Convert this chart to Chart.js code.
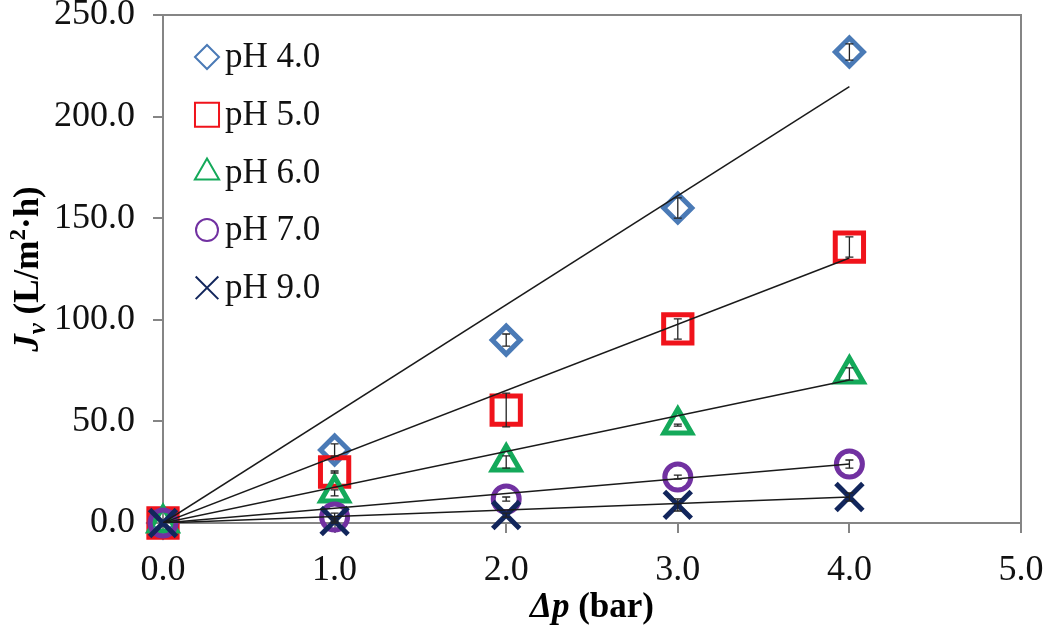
<!DOCTYPE html>
<html>
<head>
<meta charset="utf-8">
<title>Permeate flux vs pressure</title>
<script src="https://cdn.jsdelivr.net/npm/chart.js@4.4.0/dist/chart.umd.min.js"></script>
<style>
    html, body { margin: 0; padding: 0; background: #ffffff; }
    #wrap { width: 1050px; height: 639px; }
</style>
</head>
<body>
<div id="wrap"><canvas id="fluxChart" width="1050" height="639"></canvas></div>
<script>
// ── Data ────────────────────────────────────────────────────────────────────
const pressure = [0, 1, 2, 3, 4];
const seriesLabels = ['pH 4.0', 'pH 5.0', 'pH 6.0', 'pH 7.0', 'pH 9.0'];

const fluxPH4 = [0, 35.9, 90.0, 155.0, 231.8];
const fluxPH5 = [0, 25.1, 55.6, 95.5, 135.8];
const fluxPH6 = [0, 14.8, 30.0, 48.2, 73.3];
const fluxPH7 = [0, 2.9, 11.8, 22.6, 29.0];
const fluxPH9 = [0, 1.0, 3.9, 8.9, 12.8];

// error bar half-lengths
const errPH4 = [0, 3.0, 3.0, 5.0, 4.0];
const errPH5 = [0, 0.5, 8.3, 5.0, 5.0];
const errPH6 = [0, 1.5, 3.0, 0.5, 3.0];
const errPH7 = [0, 2.0, 1.0, 1.0, 2.0];
const errPH9 = [0, 1.0, 1.0, 3.0, 2.0];

// linear trend lines (start / end points)
const trendX = [0, 4];
const trendPH4 = [0, 214.8];
const trendPH5 = [0, 130.4];
const trendPH6 = [0, 70.4];
const trendPH7 = [0, 29.0];
const trendPH9 = [0, 12.8];

const xTicks = [0, 1, 2, 3, 4, 5];
const yTicks = [0, 50, 100, 150, 200, 250];

// ── Styling ─────────────────────────────────────────────────────────────────
const colors = {
    blue:   '#4a7ab6',
    red:    '#f0131b',
    green:  '#14a95a',
    purple: '#7131a1',
    navy:   '#12265c',
    axis:   '#858585'
};
const serif = "'Liberation Serif', 'Times New Roman', serif";

const toPoints = (xs, ys) => xs.map((x, i) => ({ x: x, y: ys[i] }));

const markerSets = [
    { data: fluxPH4, err: errPH4, color: colors.blue,   style: 'rectRot',  radius: 14, legendRadius: 12 },
    { data: fluxPH5, err: errPH5, color: colors.red,    style: 'rect',     radius: 20, legendRadius: 17 },
    { data: fluxPH6, err: errPH6, color: colors.green,  style: 'triangle', radius: 16, legendRadius: 14 },
    { data: fluxPH7, err: errPH7, color: colors.purple, style: 'circle',   radius: 13, legendRadius: 11 },
    { data: fluxPH9, err: errPH9, color: colors.navy,   style: 'crossRot', radius: 19, legendRadius: 16 }
];
const trends = [trendPH4, trendPH5, trendPH6, trendPH7, trendPH9];

const datasets = [];
markerSets.forEach((s, i) => {
    datasets.push({
        label: seriesLabels[i],
        data: toPoints(pressure, s.data),
        errors: s.err,
        showLine: false,
        pointStyle: s.style,
        pointRadius: s.radius,
        pointHoverRadius: s.radius,
        pointBorderWidth: 5,
        pointBorderColor: s.color,
        pointBackgroundColor: 'rgba(0,0,0,0)',
        borderColor: s.color,
        clip: false,
        order: 10 - i
    });
});
trends.forEach((t, i) => {
    datasets.push({
        label: seriesLabels[i] + ' trend',
        data: toPoints(trendX, t),
        showLine: true,
        borderColor: '#1a1a1a',
        borderWidth: 1.5,
        pointRadius: 0,
        pointHoverRadius: 0,
        order: 0
    });
});

// ── Plugins ─────────────────────────────────────────────────────────────────
const errorBars = {
    id: 'errorBars',
    afterDatasetsDraw(chart) {
        const ctx = chart.ctx, xs = chart.scales.x, ys = chart.scales.y;
        ctx.save();
        ctx.strokeStyle = '#222222';
        ctx.lineWidth = 1.3;
        chart.data.datasets.forEach(ds => {
            if (!ds.errors) return;
            ds.data.forEach((p, i) => {
                const e = ds.errors[i];
                if (!e) return;
                const px = xs.getPixelForValue(p.x);
                const top = ys.getPixelForValue(p.y + e);
                const bot = ys.getPixelForValue(p.y - e);
                ctx.beginPath();
                ctx.moveTo(px, top); ctx.lineTo(px, bot);
                ctx.moveTo(px - 4, top); ctx.lineTo(px + 4, top);
                ctx.moveTo(px - 4, bot); ctx.lineTo(px + 4, bot);
                ctx.stroke();
            });
        });
        ctx.restore();
    }
};

const frameAndTitles = {
    id: 'frameAndTitles',
    afterDraw(chart) {
        const ctx = chart.ctx, a = chart.chartArea;
        ctx.save();
        // plot frame (top and right edges)
        ctx.strokeStyle = colors.axis;
        ctx.lineWidth = 2;
        ctx.beginPath();
        ctx.moveTo(a.left, a.top); ctx.lineTo(a.right, a.top); ctx.lineTo(a.right, a.bottom);
        ctx.stroke();

        // legend, inside the plot at top-left
        markerSets.forEach((s, i) => {
            const cx = a.left + 44, cy = a.top + 42 + i * 57.7;
            ctx.strokeStyle = s.color;
            ctx.fillStyle = 'rgba(0,0,0,0)';
            Chart.helpers.drawPoint(ctx, { pointStyle: s.style, radius: s.legendRadius, borderWidth: 3.5, rotation: 0 }, cx, cy);
            ctx.fillStyle = '#111111';
            ctx.font = '35px ' + serif;
            ctx.textBaseline = 'middle';
            ctx.textAlign = 'left';
            ctx.fillText(seriesLabels[i], cx + 18, cy + 1);
        });

        // x axis title: "Δp (bar)"
        const xParts = [
            { t: 'Δp', f: 'italic bold 35px ' + serif },
            { t: ' (bar)', f: 'bold 35px ' + serif }
        ];
        drawParts(ctx, xParts, (a.left + a.right) / 2, 617);

        // y axis title: "Jv (L/m²·h)", rotated
        const yParts = [
            { t: 'J', f: 'italic bold 35px ' + serif },
            { t: 'v', f: 'italic bold 25px ' + serif, dy: 7 },
            { t: ' (L/m', f: 'bold 35px ' + serif },
            { t: '2', f: 'bold 23px ' + serif, dy: -13 },
            { t: '·h)', f: 'bold 35px ' + serif }
        ];
        ctx.translate(38, (a.top + a.bottom) / 2);
        ctx.rotate(-Math.PI / 2);
        drawParts(ctx, yParts, 0, 0);
        ctx.restore();
    }
};

function drawParts(ctx, parts, cx, baseline) {
    ctx.textBaseline = 'alphabetic';
    ctx.textAlign = 'left';
    ctx.fillStyle = '#000000';
    let total = 0;
    parts.forEach(p => { ctx.font = p.f; total += ctx.measureText(p.t).width; });
    let x = cx - total / 2;
    parts.forEach(p => {
        ctx.font = p.f;
        ctx.fillText(p.t, x, baseline + (p.dy || 0));
        x += ctx.measureText(p.t).width;
    });
}

// ── Chart ───────────────────────────────────────────────────────────────────
new Chart(document.getElementById('fluxChart'), {
    type: 'scatter',
    data: { datasets: datasets },
    plugins: [errorBars, frameAndTitles],
    options: {
        responsive: false,
        animation: false,
        events: [],
        layout: { autoPadding: false, padding: { left: 0, top: 15, right: 29, bottom: 0 } },
        plugins: {
            legend: { display: false },
            tooltip: { enabled: false }
        },
        scales: {
            x: {
                type: 'linear',
                min: 0,
                max: 5,
                afterBuildTicks: s => { s.ticks = xTicks.map(v => ({ value: v })); },
                afterFit: s => { s.height = 116; s.paddingLeft = 0; s.paddingRight = 0; },
                ticks: {
                    color: '#111111',
                    font: { family: serif, size: 36 },
                    padding: 16,
                    maxRotation: 0,
                    callback: v => Number(v).toFixed(1)
                },
                grid: { drawOnChartArea: false, drawTicks: true, tickLength: 10, color: colors.axis, lineWidth: 2 },
                border: { color: colors.axis, width: 2 }
            },
            y: {
                type: 'linear',
                min: 0,
                max: 250,
                afterBuildTicks: s => { s.ticks = yTicks.map(v => ({ value: v })); },
                afterFit: s => { s.width = 163; s.paddingTop = 0; s.paddingBottom = 0; },
                ticks: {
                    color: '#111111',
                    font: { family: serif, size: 36, lineHeight: 0.8 },
                    padding: 18,
                    callback: v => Number(v).toFixed(1)
                },
                grid: { drawOnChartArea: false, drawTicks: true, tickLength: 10, color: colors.axis, lineWidth: 2 },
                border: { color: colors.axis, width: 2 }
            }
        }
    }
});
</script>
</body>
</html>
